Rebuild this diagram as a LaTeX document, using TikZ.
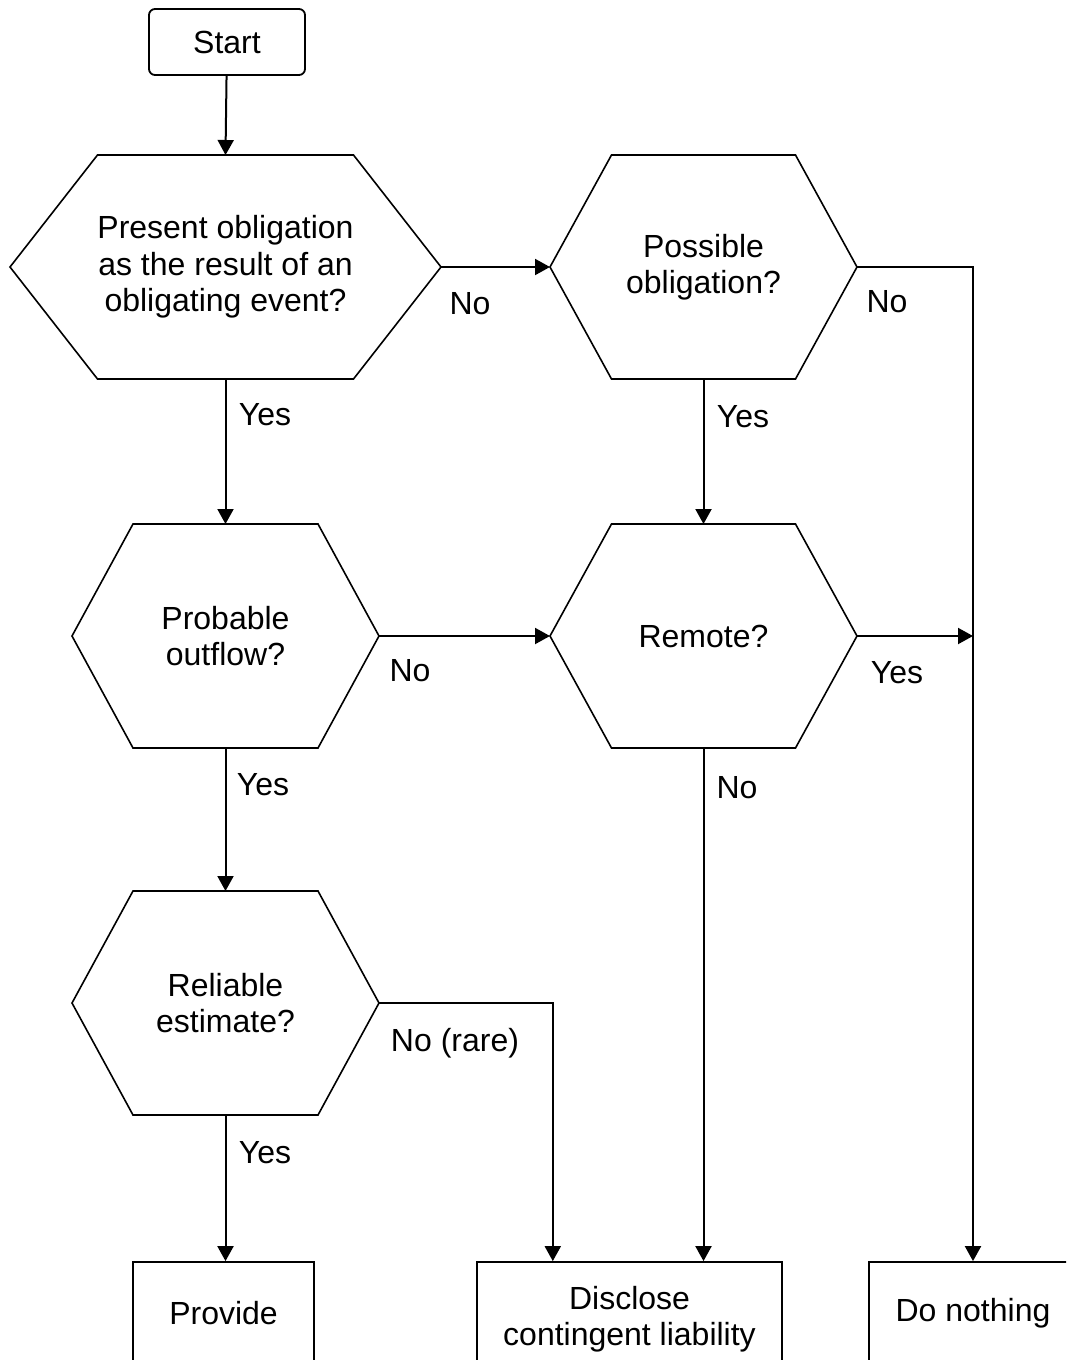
\documentclass[tikz,border=0pt]{standalone}
\usepackage{fontspec}
\setmainfont{Liberation Sans}
\usetikzlibrary{calc}
\usetikzlibrary{arrows.meta}

% hexagon: name, centre, half top edge, half width, text
\newcommand{\hexagon}[5]{%
  \node[hextext] (#1) at #2 {#5};
  \coordinate (#1-w) at ($(#1)+(-#4,0)$);
  \coordinate (#1-e) at ($(#1)+(#4,0)$);
  \coordinate (#1-n) at ($(#1)+(0,-112)$);
  \coordinate (#1-s) at ($(#1)+(0,112)$);
  \draw[hexline] (#1-w) -- ++({#4-#3},-112) -- ++({2*#3},0) -- (#1-e)
    -- ++({#3-#4},112) -- ++({-2*#3},0) -- cycle;
}

\begin{document}
\begin{tikzpicture}[x=0.5pt,y=-0.5pt,
    font=\fontsize{16}{18.25}\selectfont,
    hextext/.style={align=center,inner sep=0pt},
    hexline/.style={line width=0.8pt,line join=miter},
    endbox/.style={draw,line width=0.9pt,align=center,inner sep=0pt,minimum height=51pt},
    lbl/.style={anchor=base,inner sep=0pt},
    flow/.style={line width=1pt,-{Triangle[length=7.5pt,width=8pt]}}]

    \clip (0,0) rectangle (1066,1360);

    % Start
    \node[endbox,rounded corners=3pt,minimum width=78pt,minimum height=33pt] (start) at (227,42) {Start};

    % Questions
    \hexagon{pres}{(225.5,267)}{128}{215.5}{Present obligation\\as the result of an\\obligating event?}
    \hexagon{poss}{(703.5,267)}{92}{153.5}{Possible\\obligation?}
    \hexagon{prob}{(225.5,636)}{92.5}{153.5}{Probable\\outflow?}
    \hexagon{rem}{(703.5,636)}{92}{153.5}{Remote?}
    \hexagon{rel}{(225.5,1003)}{92.5}{153.5}{Reliable\\estimate?}

    % Outcomes
    \node[endbox,minimum width=90.5pt] (provide) at (223.5,1313) {Provide};
    \node[endbox,minimum width=152.5pt,minimum height=57pt] (disclose) at (629.5,1319) {Disclose\\contingent liability};
    \node[endbox,minimum width=104pt] (nothing) at (973,1313) {Do nothing};

    % Connectors
    \draw[flow] (start) -- (pres-n);
    \draw[flow] (pres-e) -- (poss-w);
    \draw[flow] (poss-e) -| (nothing);
    \draw[flow] (pres-s) -- (prob-n);
    \draw[flow] (poss-s) -- (rem-n);
    \draw[flow] (prob-e) -- (rem-w);
    \coordinate (join) at (rem-e -| nothing);
    \draw[flow] (rem-e) -- (join);
    \draw[flow] (rem-s) -- (rem-s |- disclose.north);
    \draw[flow] (prob-s) -- (rel-n);
    \draw[flow] (rel-e) -| ($(disclose.north west)!0.25!(disclose.north east)$);
    \draw[flow] (rel-s) -- (rel-s |- provide.north);

    % Labels
    \node[lbl] (no1) at (470,314) {No};
    \node[lbl] (no2) at (887,312) {No};
    \node[lbl] (yes1) at (265,425) {Yes};
    \node[lbl] (yes2) at (743,427) {Yes};
    \node[lbl] (no3) at (410,681) {No};
    \node[lbl] (yes3) at (897,683) {Yes};
    \node[lbl] (yes4) at (263,795) {Yes};
    \node[lbl] (no4) at (737,798) {No};
    \node[lbl] (norare) at (455,1051) {No (rare)};
    \node[lbl] (yes5) at (265,1163) {Yes};
\end{tikzpicture}
\end{document}
